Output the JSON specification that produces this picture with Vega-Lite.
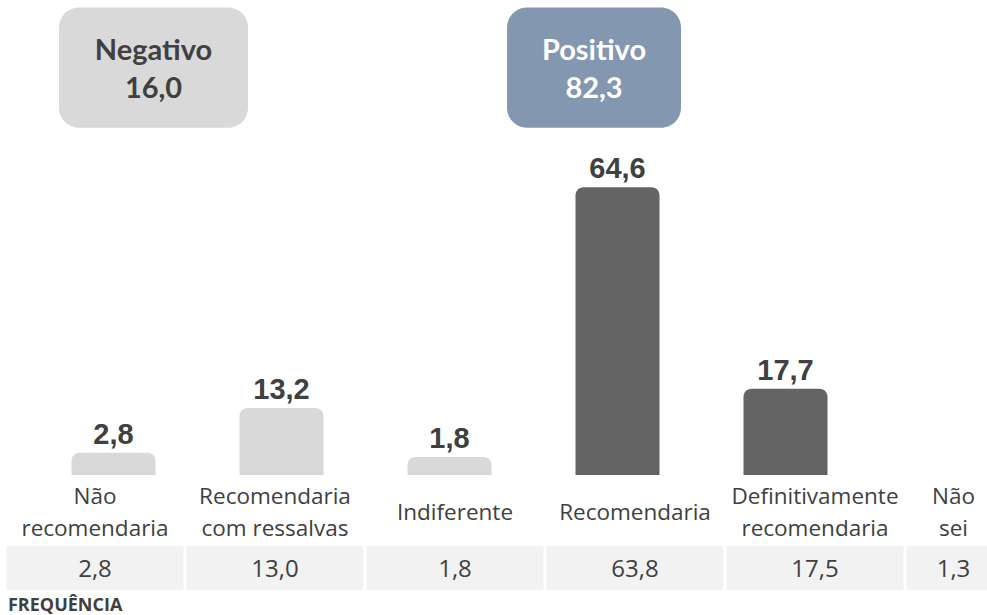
{
  "$schema": "https://vega.github.io/schema/vega-lite/v6.json",
  "width": 987,
  "height": 615,
  "padding": 0,
  "autosize": {"type": "none"},
  "background": "#ffffff",
  "config": {
    "view": {"stroke": null},
    "text": {"font": "Open Sans"},
    "locale": {"number": {"decimal": ",", "thousands": ".", "grouping": [3], "currency": ["R$", ""]}}
  },
  "datasets": {
    "cats": [
      {"categoria": "Não recomendaria", "rotulo": "Não\nrecomendaria", "grupo": "Negativo", "valor": 2.8, "frequencia": 2.8},
      {"categoria": "Recomendaria com ressalvas", "rotulo": "Recomendaria\ncom ressalvas", "grupo": "Negativo", "valor": 13.2, "frequencia": 13.0},
      {"categoria": "Indiferente", "rotulo": "Indiferente", "grupo": "Neutro", "valor": 1.8, "frequencia": 1.8},
      {"categoria": "Recomendaria", "rotulo": "Recomendaria", "grupo": "Positivo", "valor": 64.6, "frequencia": 63.8},
      {"categoria": "Definitivamente recomendaria", "rotulo": "Definitivamente\nrecomendaria", "grupo": "Positivo", "valor": 17.7, "frequencia": 17.5},
      {"categoria": "Não sei", "rotulo": "Não\nsei", "grupo": "Não sabe", "valor": null, "frequencia": 1.3}
    ],
    "boxes": [
      {"grupo": "Negativo", "total": 16.0},
      {"grupo": "Positivo", "total": 82.3}
    ]
  },
  "resolve": {"scale": {"x": "independent", "color": "independent"}},
  "layer": [
    {
      "data": {"name": "cats"},
      "encoding": {
        "x": {
          "field": "categoria", "type": "nominal", "axis": null,
          "scale": {
            "domain": ["Não recomendaria", "Recomendaria com ressalvas", "Indiferente", "Recomendaria", "Definitivamente recomendaria", "Não sei"],
            "range": [5, 1085], "paddingInner": 0.0167, "paddingOuter": 0.0083
          }
        }
      },
      "layer": [
        {
          "mark": {"type": "bar", "color": "#f2f2f2"},
          "encoding": {
            "y": {"datum": -18.93, "type": "quantitative", "axis": null, "scale": {"domain": [-35, 108.2], "nice": false, "zero": false}},
            "y2": {"datum": -29.18}
          }
        },
        {
          "transform": [{"filter": "datum.categoria !== 'Não sei'"}],
          "mark": {"type": "text", "fontSize": 24, "color": "#404040", "baseline": "middle"},
          "encoding": {
            "y": {"datum": -24.5, "type": "quantitative", "axis": null, "scale": {"domain": [-35, 108.2], "nice": false, "zero": false}},
            "text": {"field": "frequencia", "type": "quantitative", "format": ".1f"}
          }
        },
        {
          "transform": [{"filter": "datum.categoria === 'Indiferente' || datum.categoria === 'Recomendaria'"}],
          "mark": {"type": "text", "fontSize": 22.5, "color": "#404040", "baseline": "middle", "lineBreak": "\n", "lineHeight": 32},
          "encoding": {
            "y": {"datum": -11.18, "type": "quantitative", "axis": null, "scale": {"domain": [-35, 108.2], "nice": false, "zero": false}},
            "text": {"field": "rotulo", "type": "nominal"}
          }
        },
        {
          "transform": [{"filter": "datum.categoria === 'Não recomendaria' || datum.categoria === 'Recomendaria com ressalvas' || datum.categoria === 'Definitivamente recomendaria'"}],
          "mark": {"type": "text", "fontSize": 22.5, "color": "#404040", "baseline": "middle", "lineBreak": "\n", "lineHeight": 32},
          "encoding": {
            "y": {"datum": -7.45, "type": "quantitative", "axis": null, "scale": {"domain": [-35, 108.2], "nice": false, "zero": false}},
            "text": {"field": "rotulo", "type": "nominal"}
          }
        },
        {
          "data": {"values": [{"titulo": "FREQUÊNCIA"}]},
          "mark": {"type": "text", "fontSize": 18, "fontWeight": "bold", "color": "#404040", "align": "left", "baseline": "alphabetic", "dx": 1.5},
          "encoding": {
            "x": {"datum": "Não recomendaria", "type": "nominal", "bandPosition": 0},
            "y": {"datum": -34.1, "type": "quantitative", "axis": null, "scale": {"domain": [-35, 108.2], "nice": false, "zero": false}},
            "text": {"field": "titulo", "type": "nominal"}
          }
        }
      ]
    },
    {
      "data": {"name": "cats"},
      "encoding": {
        "x": {
          "field": "categoria", "type": "nominal", "axis": null,
          "scale": {
            "domain": ["Não recomendaria", "Recomendaria com ressalvas", "Indiferente", "Recomendaria", "Definitivamente recomendaria", "Não sei"],
            "range": [29.5, 1037.5], "paddingInner": 0.5, "paddingOuter": 0.25
          }
        }
      },
      "layer": [
        {
          "transform": [{"filter": "datum.valor != null"}],
          "mark": {"type": "bar", "cornerRadiusTopLeft": 8, "cornerRadiusTopRight": 8},
          "encoding": {
            "y": {"field": "valor", "type": "quantitative", "axis": null, "scale": {"domain": [-35, 108.2], "nice": false, "zero": false}},
            "y2": {"datum": -2.4},
            "color": {"field": "grupo", "type": "nominal", "legend": null, "scale": {"domain": ["Negativo", "Neutro", "Positivo"], "range": ["#d9d9d9", "#d9d9d9", "#646464"]}}
          }
        },
        {
          "transform": [{"filter": "datum.valor != null"}],
          "mark": {"type": "text", "font": "Liberation Sans", "fontWeight": "bold", "fontSize": 29, "color": "#404040", "baseline": "alphabetic", "dy": -9},
          "encoding": {
            "y": {"field": "valor", "type": "quantitative", "axis": null, "scale": {"domain": [-35, 108.2], "nice": false, "zero": false}},
            "text": {"field": "valor", "type": "quantitative", "format": ".1f"}
          }
        },
        {
          "transform": [{"filter": "datum.categoria === 'Não sei'"}],
          "mark": {"type": "text", "fontSize": 22.5, "color": "#404040", "baseline": "middle", "lineBreak": "\n", "lineHeight": 32},
          "encoding": {
            "y": {"datum": -7.45, "type": "quantitative", "axis": null, "scale": {"domain": [-35, 108.2], "nice": false, "zero": false}},
            "text": {"field": "rotulo", "type": "nominal"}
          }
        },
        {
          "transform": [{"filter": "datum.categoria === 'Não sei'"}],
          "mark": {"type": "text", "fontSize": 24, "color": "#404040", "baseline": "middle"},
          "encoding": {
            "y": {"datum": -24.5, "type": "quantitative", "axis": null, "scale": {"domain": [-35, 108.2], "nice": false, "zero": false}},
            "text": {"field": "frequencia", "type": "quantitative", "format": ".1f"}
          }
        }
      ]
    },
    {
      "data": {"name": "boxes"},
      "encoding": {
        "x": {
          "field": "grupo", "type": "nominal", "axis": null,
          "scale": {"type": "point", "domain": ["Negativo", "Positivo"], "range": [153.5, 594], "padding": 0}
        }
      },
      "layer": [
        {
          "transform": [{"filter": "datum.grupo === 'Negativo'"}],
          "mark": {"type": "bar", "width": 189, "cornerRadius": 20, "color": "#d9d9d9"},
          "encoding": {
            "y": {"datum": 106.47, "type": "quantitative", "axis": null, "scale": {"domain": [-35, 108.2], "nice": false, "zero": false}},
            "y2": {"datum": 78.48}
          }
        },
        {
          "transform": [{"filter": "datum.grupo === 'Positivo'"}],
          "mark": {"type": "bar", "width": 174, "cornerRadius": 20, "color": "#8497b0"},
          "encoding": {
            "y": {"datum": 106.47, "type": "quantitative", "axis": null, "scale": {"domain": [-35, 108.2], "nice": false, "zero": false}},
            "y2": {"datum": 78.48}
          }
        },
        {
          "mark": {"type": "text", "font": "Lato", "fontWeight": "bold", "fontSize": 29, "baseline": "alphabetic"},
          "encoding": {
            "y": {"datum": 94.25, "type": "quantitative", "axis": null, "scale": {"domain": [-35, 108.2], "nice": false, "zero": false}},
            "text": {"field": "grupo", "type": "nominal"},
            "color": {"field": "grupo", "type": "nominal", "legend": null, "scale": {"domain": ["Negativo", "Positivo"], "range": ["#404040", "#ffffff"]}}
          }
        },
        {
          "mark": {"type": "text", "font": "Lato", "fontWeight": "bold", "fontSize": 29, "baseline": "alphabetic"},
          "encoding": {
            "y": {"datum": 85.33, "type": "quantitative", "axis": null, "scale": {"domain": [-35, 108.2], "nice": false, "zero": false}},
            "text": {"field": "total", "type": "quantitative", "format": ".1f"},
            "color": {"field": "grupo", "type": "nominal", "legend": null, "scale": {"domain": ["Negativo", "Positivo"], "range": ["#404040", "#ffffff"]}}
          }
        }
      ]
    }
  ]
}
